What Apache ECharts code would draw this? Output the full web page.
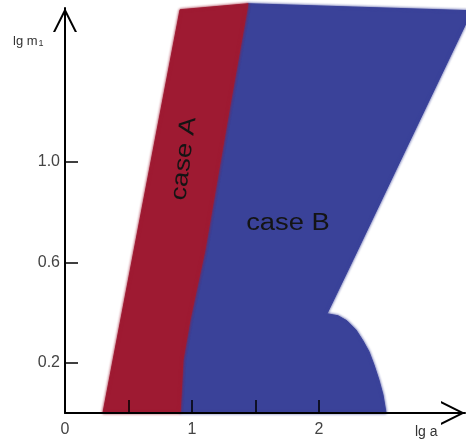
<!DOCTYPE html>
<html><head><meta charset="utf-8">
<script src="https://cdn.jsdelivr.net/npm/echarts@6/dist/echarts.min.js"></script>
<style>html,body{margin:0;padding:0;background:#fff}#c{width:466px;height:443px}</style>
</head><body><div id="c"></div>
<script>
// Region boundaries in data units (x = lg a, y = lg m1)
const caseA = [[0.299,0],[0.906,1.605],[1.441,1.629],[1.299,1.226],[1.102,0.650],[0.984,0.371],[0.929,0.212],[0.906,0]];
const caseB = [[1.441,1.629],[3.205,1.601],[2.268,0.610],[2.063,0.395],[2.150,0.387],[2.220,0.367],[2.291,0.331],[2.346,0.288],[2.394,0.244],[2.433,0.192],[2.472,0.132],[2.504,0.073],[2.528,0],[0.906,0],[0.929,0.212],[0.984,0.371],[1.102,0.650],[1.299,1.226]];
const regionNames = ['case A','case B'];
const regionLabelAnchors = [[0.937,1.012],[1.756,0.753]];
const xTickValues = [0.5,1,1.5,2];
const xLabelValues = [0,1,2];
const yTickValues = [0.2,0.6,1.0];
const yLabelValues = [0.2,0.6,1.0];

const chart = echarts.init(document.getElementById('c'), null, {renderer:'canvas'});
const arrowPath = 'path://M12,0 L24,24 L21.8,24 L12,4.4 L2.2,24 L0,24 Z';
const FONT = '"Liberation Sans", Arial, Helvetica, sans-serif';

function polySeries(points, color, name, anchor, rot) {
  return {
    type:'custom', silent:true, clip:false, z:2,
    data:[anchor],
    renderItem(params, api){
      const pts = points.map(p => api.coord(p));
      const c = api.coord(anchor);
      return {type:'group', children:[
        {type:'polygon', shape:{points:pts}, style:{fill:color, stroke:color, lineWidth:1, shadowBlur:3, shadowColor:color}},
        {type:'text', x:c[0], y:c[1], rotation:rot, scaleX:1.19, z2:10,
         style:{text:name, fill:'#141414', font:'23px ' + FONT, align:'center', verticalAlign:'middle'}}
      ]};
    }
  };
}

chart.setOption({
  animation:false,
  grid:{left:65, top:8, right:1, bottom:30, containLabel:false},
  xAxis:{type:'value', min:0, max:3.15, z:10,
    axisLine:{show:true, symbol:['none', arrowPath], symbolSize:[24,24], symbolOffset:[0,-12], lineStyle:{color:'#000', width:2}},
    axisTick:{show:true, inside:true, length:13, customValues:xTickValues, lineStyle:{color:'#000', width:1.5}},
    axisLabel:{show:true, customValues:xLabelValues, margin:9, color:'#444', fontSize:16, fontFamily:FONT, formatter:v=>String(v)},
    splitLine:{show:false}},
  yAxis:{type:'value', min:0, max:1.612, z:10,
    axisLine:{show:true, symbol:['none', arrowPath], symbolSize:[24,24], symbolOffset:[0,-12], lineStyle:{color:'#000', width:2}},
    axisTick:{show:true, inside:true, length:13, customValues:yTickValues, lineStyle:{color:'#000', width:1.5}},
    axisLabel:{show:true, customValues:yLabelValues, margin:5, color:'#444', fontSize:16, fontFamily:FONT, formatter:v=>v.toFixed(1)},
    splitLine:{show:false}},
  graphic:[
    {type:'text', left:13, top:35, style:{text:'{a|lg m}{s|1}', rich:{a:{fontSize:13, fontFamily:FONT, fill:'#333'}, s:{fontSize:9, fontFamily:FONT, fill:'#333', padding:[5,0,0,1]}}}},
    {type:'text', left:415, top:425, style:{text:'lg a', fontSize:14, fontFamily:FONT, fill:'#333'}}
  ],
  series:[
    polySeries(caseB, '#3a4299', regionNames[1], regionLabelAnchors[1], 0),
    polySeries(caseA, '#9e1a32', regionNames[0], regionLabelAnchors[0], 83*Math.PI/180)
  ]
});
</script></body></html>
